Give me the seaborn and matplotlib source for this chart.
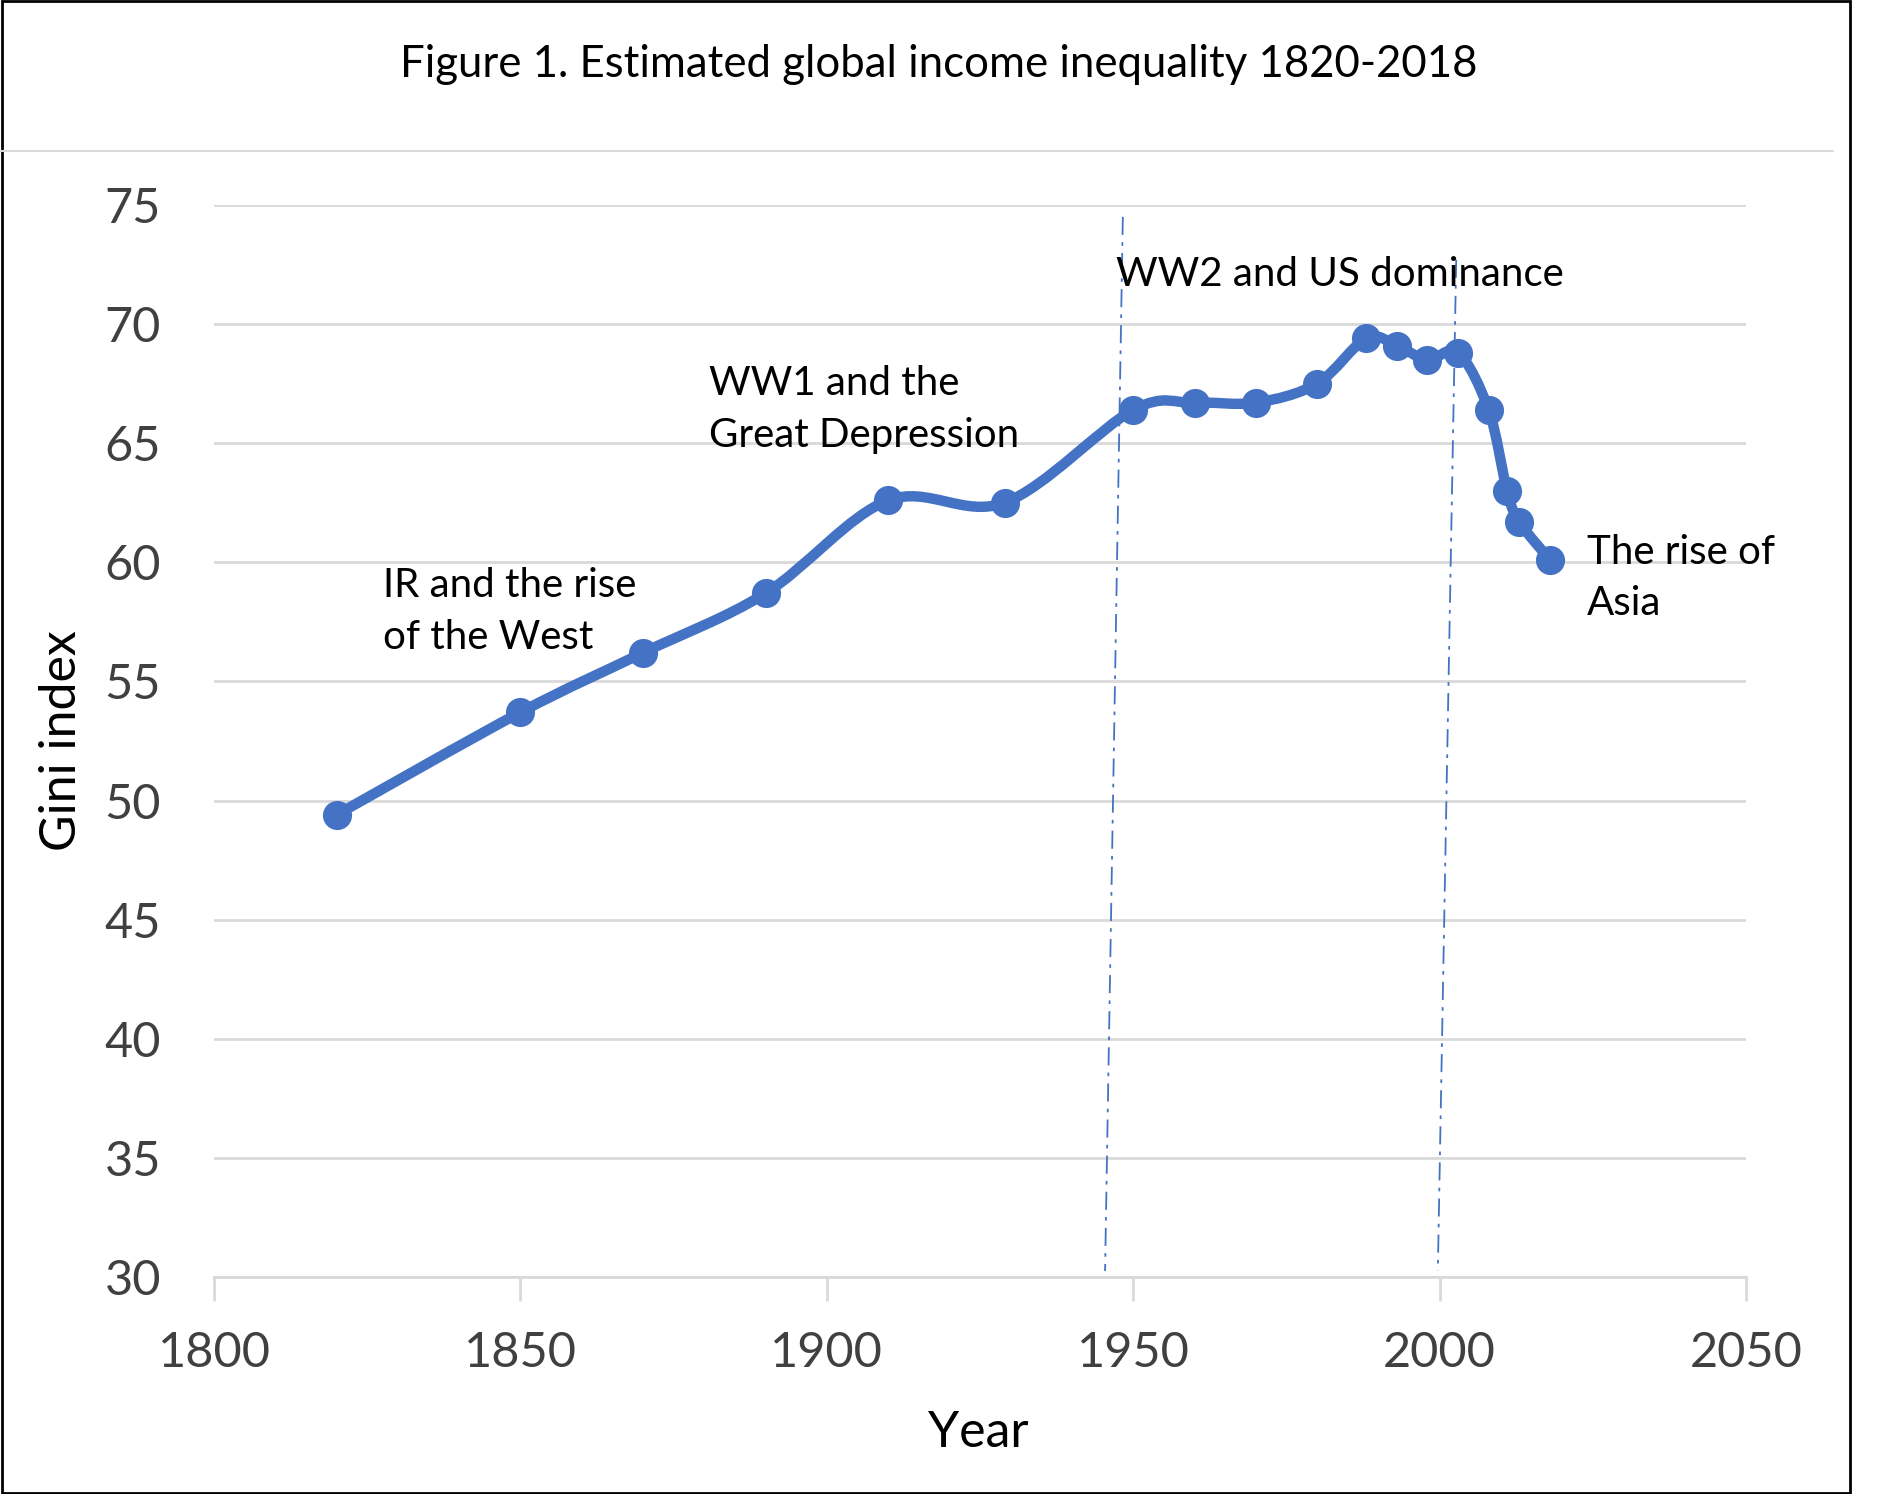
import numpy as np
import pandas as pd
import matplotlib
matplotlib.use("Agg")
import matplotlib.pyplot as plt
import seaborn as sns
from matplotlib.path import Path
from matplotlib.patches import PathPatch, Rectangle
from matplotlib.lines import Line2D

# Datos
anios = [1820, 1850, 1870, 1890, 1910, 1929, 1950, 1960, 1970, 1980,
         1988, 1993, 1998, 2003, 2008, 2011, 2013, 2018]
gini = [49.4, 53.7, 56.2, 58.7, 62.6, 62.5, 66.4, 66.7, 66.7, 67.5,
        69.4, 69.1, 68.5, 68.8, 66.4, 63.0, 61.7, 60.1]

ticks_x = [1800, 1850, 1900, 1950, 2000, 2050]
ticks_y = [30, 35, 40, 45, 50, 55, 60, 65, 70, 75]

# Lineas de periodo (trazadas a mano en el original, algo inclinadas)
periodo_x = [[1948.3, 1945.4], [2002.7, 1999.7]]
periodo_y = [[74.5, 30.25], [72.7, 30.25]]

# Etiquetas de texto (y = linea base de la ultima linea)
etiquetas = ["IR and the rise\nof the West", "WW1 and the\nGreat Depression",
             "WW2 and US dominance", "The rise of\nAsia"]
etiq_x = [1827.6, 1880.8, 1947.2, 2024.1]
etiq_y = [56.38, 64.86, 71.6, 57.8]

df = pd.DataFrame({"Year": anios, "Gini": gini})

sns.set_theme(style="white")
plt.rcParams["font.family"] = ["Lato", "DejaVu Sans"]

azul = "#4472C4"
gris = "#D9D9D9"

fig = plt.figure(figsize=(18.94, 14.94), dpi=100)
ax = fig.add_axes([0.113, 0.1453, 0.8089, 0.7175])

# Curva suavizada (estilo Excel, Bezier Catmull-Rom sobre los puntos)
px = np.array(anios, dtype=float)
py = np.array(gini, dtype=float)
verts = [(px[0], py[0])]
codes = [Path.MOVETO]
n = len(px)
for i in range(n - 1):
    i0 = max(i - 1, 0)
    i3 = min(i + 2, n - 1)
    c1 = (px[i] + (px[i + 1] - px[i0]) / 6, py[i] + (py[i + 1] - py[i0]) / 6)
    c2 = (px[i + 1] - (px[i3] - px[i]) / 6, py[i + 1] - (py[i3] - py[i]) / 6)
    verts += [c1, c2, (px[i + 1], py[i + 1])]
    codes += [Path.CURVE4] * 3
ax.add_patch(PathPatch(Path(verts, codes), fill=False, edgecolor=azul,
                       lw=7.5, capstyle="round", joinstyle="round", zorder=3))

sns.scatterplot(data=df, x="Year", y="Gini", ax=ax, color=azul, s=440,
                edgecolor=azul, linewidth=0, zorder=4, legend=False)

for xs, ys in zip(periodo_x, periodo_y):
    ax.plot(xs, ys, color=azul, lw=1.3, dashes=(10, 4, 2, 4), zorder=2)

for txt, tx, ty in zip(etiquetas, etiq_x, etiq_y):
    ax.text(tx, ty, txt, fontsize=29, color="black", ha="left", va="baseline",
            linespacing=1.47, zorder=5)

ax.set_xlim(1800, 2050)
ax.set_ylim(30, 75)
ax.set_xticks(ticks_x)
ax.set_yticks(ticks_y)
ax.yaxis.grid(True, color=gris, lw=2)
ax.xaxis.grid(False)
for lado in ["left", "right", "top"]:
    ax.spines[lado].set_visible(False)
ax.spines["bottom"].set_color(gris)
ax.spines["bottom"].set_linewidth(2)
ax.tick_params(axis="x", bottom=True, length=17, width=2, color=gris,
               labelsize=35, labelcolor="#404040", pad=22)
ax.tick_params(axis="y", left=False, labelsize=35, labelcolor="#404040", pad=32)

ax.set_xlabel("Year", fontsize=36, color="black")
ax.set_ylabel("Gini index", fontsize=36, color="black")
ax.xaxis.set_label_coords(0.499, -0.124)
ax.yaxis.set_label_coords(-0.084, 0.5)

# Titulo y marco del grafico
fig.text(0.4955, 0.9485, "Figure 1. Estimated global income inequality 1820-2018",
         fontsize=31.5, color="black", ha="center", va="baseline")
fig.add_artist(Line2D([0, 0.968], [0.899, 0.899], color=gris, lw=1.5))
fig.add_artist(Rectangle((0.001, 0.001), 0.976, 0.998, fill=False,
                         edgecolor="black", lw=2, transform=fig.transFigure))

fig.savefig("out.png", dpi=100)
